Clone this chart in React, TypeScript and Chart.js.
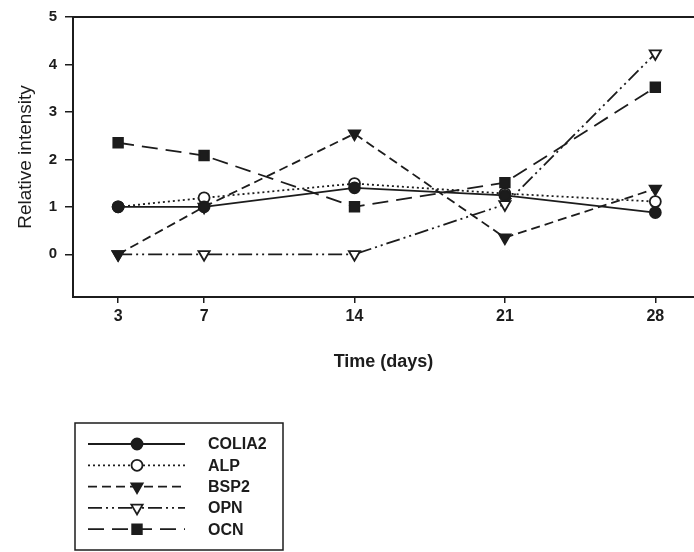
import React, { useEffect, useRef } from "react";
import { Chart, registerables } from "chart.js";

Chart.register(...registerables);

const days = [3, 7, 14, 21, 28];
const xTicks = [3, 7, 14, 21, 28];
const yTicks = [0, 1, 2, 3, 4, 5];
const seriesNames = ["COLIA2", "ALP", "BSP2", "OPN", "OCN"];
const colia2 = [1.0, 1.0, 1.4, 1.24, 0.88];
const alp = [1.0, 1.19, 1.49, 1.28, 1.11];
const bsp2 = [0.0, 1.0, 2.54, 0.35, 1.38];
const opn = [0.0, 0.0, 0.0, 1.05, 4.23];
const ocn = [2.35, 2.08, 1.0, 1.51, 3.52];

const INK = "#1c1c1c";

type Sty = { dash: number[]; shape: string; filled: boolean; r: number };
const styles: Sty[] = [
  { dash: [], shape: "circle", filled: true, r: 5.5 },
  { dash: [2, 3], shape: "circle", filled: false, r: 5.5 },
  { dash: [9, 5], shape: "tri", filled: true, r: 6.5 },
  { dash: [14, 4, 2, 4, 2, 4], shape: "tri", filled: false, r: 6.5 },
  { dash: [16, 8], shape: "rect", filled: true, r: 6.8 },
];

function drawMarker(ctx: CanvasRenderingContext2D, s: Sty, x: number, y: number) {
  ctx.save();
  ctx.setLineDash([]);
  ctx.beginPath();
  if (s.shape === "circle") {
    ctx.arc(x, y, s.r, 0, Math.PI * 2);
  } else if (s.shape === "tri") {
    const r = s.r;
    ctx.moveTo(x, y + r);
    ctx.lineTo(x - r * 0.866, y - r * 0.5);
    ctx.lineTo(x + r * 0.866, y - r * 0.5);
    ctx.closePath();
  } else {
    const h = s.r * Math.SQRT1_2;
    ctx.rect(x - h, y - h, 2 * h, 2 * h);
  }
  ctx.fillStyle = s.filled ? INK : "#ffffff";
  ctx.fill();
  ctx.lineWidth = 1.8;
  ctx.strokeStyle = INK;
  ctx.stroke();
  ctx.restore();
}

const framePlugin = {
  id: "frameAndLegend",
  afterDraw(chart: any) {
    const ctx: CanvasRenderingContext2D = chart.ctx;
    const a = chart.chartArea;
    ctx.save();
    ctx.strokeStyle = INK;
    ctx.lineWidth = 2;
    ctx.beginPath();
    ctx.moveTo(a.left, a.top);
    ctx.lineTo(a.right, a.top);
    ctx.stroke();

    // legend box
    ctx.lineWidth = 1.5;
    ctx.strokeRect(75, 423, 208, 127);
    chart.data.datasets.forEach((ds: any, i: number) => {
      const s = styles[i];
      const y = 444 + i * 21.3;
      ctx.save();
      ctx.lineWidth = 1.8;
      ctx.setLineDash(s.dash);
      ctx.beginPath();
      ctx.moveTo(88, y);
      ctx.lineTo(185, y);
      ctx.stroke();
      ctx.restore();
      drawMarker(ctx, s, 137, y);
      ctx.fillStyle = INK;
      ctx.font = "bold 16px 'Liberation Sans', Arial, sans-serif";
      ctx.textBaseline = "middle";
      ctx.textAlign = "left";
      ctx.fillText(ds.label, 208, y + 1);
    });
    ctx.restore();
  },
};

export default function App() {
  const ref = useRef<HTMLCanvasElement | null>(null);
  useEffect(() => {
    if (!ref.current) return;
    const all = [colia2, alp, bsp2, opn, ocn];
    const datasets = all.map((vals, i) => {
      const s = styles[i];
      return {
        label: seriesNames[i],
        data: days.map((d, j) => ({ x: d, y: vals[j] })),
        borderColor: INK,
        borderWidth: 1.8,
        borderDash: s.dash,
        fill: false,
        tension: 0,
        clip: false,
        pointStyle: s.shape === "circle" ? "circle" : s.shape === "tri" ? "triangle" : "rect",
        pointRotation: s.shape === "tri" ? 180 : 0,
        pointRadius: s.r,
        pointBorderWidth: 1.8,
        pointBorderColor: INK,
        pointBackgroundColor: s.filled ? INK : "#ffffff",
      };
    });
    const chart = new Chart(ref.current, {
      type: "line",
      data: { datasets },
      plugins: [framePlugin],
      options: {
        animation: false,
        responsive: false,
        layout: { autoPadding: false, padding: { left: 0, top: 15, right: 0, bottom: 175 } },
        plugins: { legend: { display: false }, tooltip: { enabled: false } },
        scales: {
          x: {
            type: "linear",
            min: 0.9,
            max: 29.8,
            afterBuildTicks: (sc: any) => {
              sc.ticks = xTicks.map((v) => ({ value: v }));
            },
            afterFit: (sc: any) => {
              sc.height = 80;
              sc.paddingRight = 0;
              sc.paddingLeft = 0;
            },
            grid: { drawOnChartArea: false, drawTicks: true, tickLength: 6, color: INK, lineWidth: 1.5 },
            border: { display: true, color: INK, width: 2 },
            ticks: {
              color: INK,
              padding: 4,
              maxRotation: 0,
              autoSkip: false,
              font: { family: "'Liberation Sans', Arial, sans-serif", size: 16, weight: "bold" },
            },
            title: {
              display: true,
              text: "Time (days)",
              color: INK,
              padding: { top: 0, bottom: 4 },
              font: { family: "'Liberation Sans', Arial, sans-serif", size: 18, weight: "bold" },
            },
          },
          y: {
            min: -0.9,
            max: 5,
            afterBuildTicks: (sc: any) => {
              sc.ticks = yTicks.map((v) => ({ value: v }));
            },
            afterFit: (sc: any) => {
              sc.width = 73;
            },
            grid: { drawOnChartArea: false, drawTicks: true, tickLength: 8, color: INK, lineWidth: 1.5 },
            border: { display: true, color: INK, width: 2 },
            ticks: {
              color: INK,
              padding: 8,
              font: { family: "'Liberation Sans', Arial, sans-serif", size: 15, weight: "bold" },
            },
            title: {
              display: true,
              text: "Relative intensity",
              color: INK,
              padding: { top: 14, bottom: 0 },
              font: { family: "'Liberation Sans', Arial, sans-serif", size: 19, weight: "normal" },
            },
          },
        },
      },
    } as any);
    return () => chart.destroy();
  }, []);
  return (
    <div style={{ position: "absolute", left: 0, top: 0, width: 694, height: 552, background: "#ffffff" }}>
      <canvas ref={ref} width={694} height={552} style={{ display: "block" }} />
    </div>
  );
}
